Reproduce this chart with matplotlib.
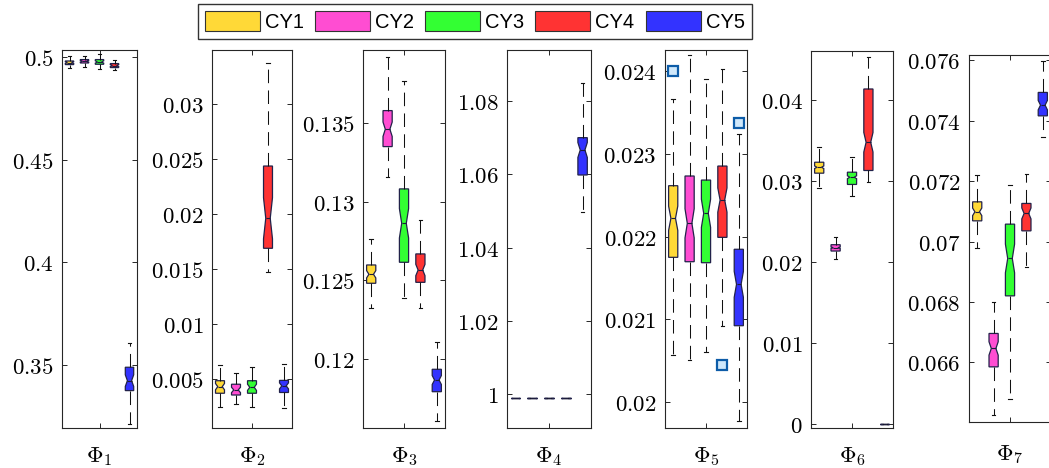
import matplotlib
matplotlib.use("Agg")
import matplotlib.pyplot as plt
import matplotlib.patches as mpatches
from matplotlib.ticker import FixedLocator, FuncFormatter

plt.rcParams["mathtext.fontset"] = "cm"

SERIES = ["CY1", "CY2", "CY3", "CY4", "CY5"]
COLORS = ["#FFD937", "#FF4DD2", "#33FF33", "#FF3333", "#3333FF"]
PANEL_LABELS = [r"$\Phi_1$", r"$\Phi_2$", r"$\Phi_3$", r"$\Phi_4$",
                r"$\Phi_5$", r"$\Phi_6$", r"$\Phi_7$"]

# box statistics, one row per panel, one value per series (CY1..CY5)
WHISHI = [
    [0.50068, 0.50068, 0.50165, 0.49874, 0.36056],
    [0.00630, 0.00555, 0.00609, 0.03373, 0.00640],
    [0.12765, 0.13918, 0.13766, 0.12883, 0.12112],
    [0.999, 0.999, 0.999, 0.999, 1.08483],
    [0.023655, 0.024189, 0.023896, 0.024017, 0.023233],
    [0.03425, 0.02309, 0.03294, 0.04533, 0.0],
    [0.072196, 0.068005, 0.071865, 0.072229, 0.075977],
]
Q3 = [
    [0.49805, 0.49874, 0.49874, 0.49679, 0.34889],
    [0.00487, 0.00455, 0.00487, 0.02439, 0.00490],
    [0.12598, 0.13576, 0.13080, 0.12668, 0.11937],
    [0.999, 0.999, 0.999, 0.999, 1.06999],
    [0.022613, 0.022730, 0.022681, 0.022850, 0.021846],
    [0.03232, 0.02215, 0.03109, 0.04135, 0.0],
    [0.071313, 0.066959, 0.070575, 0.071260, 0.074932],
]
MED = [
    [0.49728, 0.49791, 0.49757, 0.49582, 0.34237],
    [0.00433, 0.00403, 0.00427, 0.01964, 0.00440],
    [0.12539, 0.13458, 0.12862, 0.12566, 0.11869],
    [0.999, 0.999, 0.999, 0.999, 1.06663],
    [0.022220, 0.022159, 0.022280, 0.022440, 0.021423],
    [0.03170, 0.02178, 0.03047, 0.03478, 0.0],
    [0.070982, 0.066463, 0.069440, 0.070929, 0.074511],
]
Q1 = [
    [0.49630, 0.49708, 0.49645, 0.49484, 0.33751],
    [0.00373, 0.00357, 0.00373, 0.01691, 0.00380],
    [0.12482, 0.13348, 0.12615, 0.12488, 0.11795],
    [0.999, 0.999, 0.999, 0.999, 1.05981],
    [0.021749, 0.021696, 0.021684, 0.021990, 0.020924],
    [0.03097, 0.02137, 0.02958, 0.03130, 0.0],
    [0.070684, 0.065854, 0.068203, 0.070353, 0.074157],
]
WHISLO = [
    [0.49450, 0.49514, 0.49416, 0.49353, 0.32116],
    [0.00251, 0.00275, 0.00245, 0.01473, 0.00235],
    [0.12327, 0.13158, 0.12387, 0.12327, 0.11611],
    [0.999, 0.999, 0.999, 0.999, 1.04980],
    [0.020570, 0.020510, 0.020603, 0.020920, 0.019778],
    [0.02917, 0.02043, 0.02810, 0.02986, 0.0],
    [0.069771, 0.064257, 0.064776, 0.069162, 0.073443],
]
FLIERS = [
    [[], [], [], [], []],
    [[], [], [], [], []],
    [[], [], [], [], []],
    [[], [], [], [], []],
    [[0.02400], [], [], [0.02045], [0.023365]],
    [[], [], [], [], []],
    [[], [], [], [], []],
]
# notch half-depth as a fraction of the box height
NOTCH = [0.25, 0.25, 0.2, 0.2, 0.17, 0.12, 0.2]

YTICKS = [
    [0.35, 0.4, 0.45, 0.5],
    [0.005, 0.01, 0.015, 0.02, 0.025, 0.03],
    [0.12, 0.125, 0.13, 0.135],
    [1, 1.02, 1.04, 1.06, 1.08],
    [0.02, 0.021, 0.022, 0.023, 0.024],
    [0, 0.01, 0.02, 0.03, 0.04],
    [0.066, 0.068, 0.07, 0.072, 0.074, 0.076],
]
YLIMS = [
    (0.3193, 0.5034),
    (0.00057, 0.03494),
    (0.11565, 0.1396),
    (0.9908, 1.0939),
    (0.01969, 0.02425),
    (-0.00045, 0.04607),
    (0.06404, 0.07617),
]

W, H = 1049, 468
# axes boxes in pixels: left, right, top, bottom
AX_PX = [
    (62, 137, 50, 428),
    (212, 292, 50, 428),
    (363, 445, 50, 428),
    (507, 591, 50, 428),
    (665, 747, 50, 428),
    (811, 893, 50.7, 428),
    (969, 1051, 55, 421.7),
]

fig = plt.figure(figsize=(W / 100, H / 100), dpi=100)

for p, (l, r, t, b) in enumerate(AX_PX):
    ax = fig.add_axes([l / W, 1 - b / H, (r - l) / W, (b - t) / H])
    stats = []
    for i in range(5):
        iqr = Q3[p][i] - Q1[p][i]
        stats.append(dict(
            med=MED[p][i], q1=Q1[p][i], q3=Q3[p][i],
            whislo=WHISLO[p][i], whishi=WHISHI[p][i],
            cilo=MED[p][i] - NOTCH[p] * iqr, cihi=MED[p][i] + NOTCH[p] * iqr,
            fliers=FLIERS[p][i], label=""))
    bp = ax.bxp(stats, positions=range(1, 6), widths=0.56, shownotches=True,
                patch_artist=True, showfliers=True, capwidths=0.22,
                boxprops=dict(edgecolor="#22224a", linewidth=0.9),
                whiskerprops=dict(color="#111111", linewidth=0.75,
                                  linestyle=(0, (13, 7))),
                capprops=dict(color="#111111", linewidth=0.8),
                medianprops=dict(color="#1c1c3c", linewidth=0.8),
                flierprops=dict(marker="s", markerfacecolor="#cfe8fb",
                                markeredgecolor="#0d5ca8", markersize=7,
                                markeredgewidth=1.6, linestyle="none"))
    for patch, c in zip(bp["boxes"], COLORS):
        patch.set_facecolor(c)

    ax.set_xlim(0.5, 5.5)
    ax.set_ylim(*YLIMS[p])
    ax.set_xticks([3])
    ax.set_xticklabels([PANEL_LABELS[p]])
    ax.yaxis.set_major_locator(FixedLocator(YTICKS[p]))
    ax.yaxis.set_major_formatter(FuncFormatter(lambda v, pos: f"${v:g}$"))
    ax.tick_params(direction="in", top=True, right=True, length=3.5,
                   width=0.7, color="#262626", labelsize=16.5, pad=6)
    ax.tick_params(axis="x", pad=12 if p < 6 else 15)
    for s in ax.spines.values():
        s.set_color("#262626")
        s.set_linewidth(0.8)

handles = [mpatches.Patch(facecolor=c, edgecolor="#333333", linewidth=0.8, label=n)
           for n, c in zip(SERIES, COLORS)]
fig.legend(handles=handles, loc="lower left", ncol=5,
           bbox_to_anchor=(198 / W, 1 - 39 / H), borderaxespad=0,
           prop={"family": "Liberation Sans", "size": 14.5},
           handlelength=2.73, handleheight=1.1, handletextpad=0.25,
           columnspacing=0.55, borderpad=0.35, fancybox=False,
           edgecolor="#333333", framealpha=1)

fig.savefig("out.png", dpi=100)
